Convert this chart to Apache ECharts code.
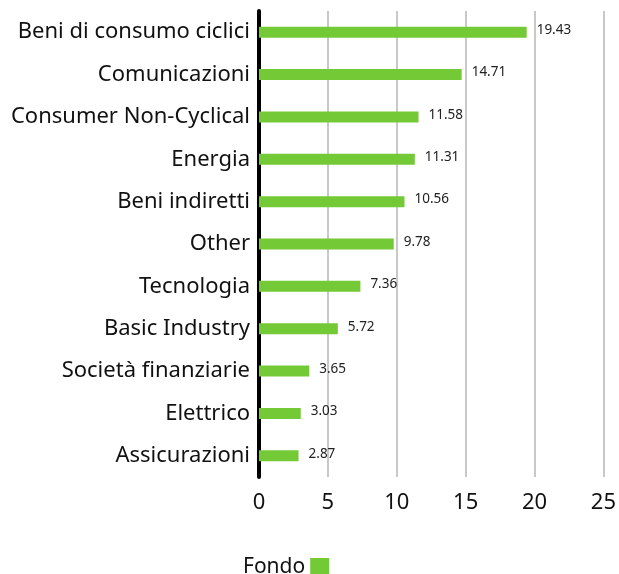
<!DOCTYPE html>
<html><head><meta charset="utf-8">
<script src="https://cdn.jsdelivr.net/npm/echarts@6/dist/echarts.min.js"></script>
<style>html,body{margin:0;padding:0;background:#fff}#c{width:619px;height:574px}</style>
</head><body><div id="c"></div>
<script>
const categories = ["Beni di consumo ciclici","Comunicazioni","Consumer Non-Cyclical","Energia","Beni indiretti","Other","Tecnologia","Basic Industry","Società finanziarie","Elettrico","Assicurazioni"];
const fondo = [19.43,14.71,11.58,11.31,10.56,9.78,7.36,5.72,3.65,3.03,2.87];
const xTicks = [0,5,10,15,20,25];

const chart = echarts.init(document.getElementById('c'));
chart.setOption({
  animation:false,
  textStyle:{fontFamily:'Noto Sans'},
  grid:{left:259,right:14,top:11,bottom:97},
  legend:{data:['Fondo'],bottom:-9,left:238,align:'right',itemWidth:19,itemHeight:19,icon:'rect',itemGap:8,
    textStyle:{fontSize:21,color:'#111',fontFamily:'Noto Sans'}},
  xAxis:{type:'value',min:0,max:25,interval:5,
    axisLine:{show:false},axisTick:{show:false},
    splitLine:{show:true,lineStyle:{color:'#c8c8c8',width:2}},
    axisLabel:{fontSize:22,color:'#111',margin:15,formatter:v=>xTicks.includes(v)?String(v):''}},
  yAxis:{type:'category',data:categories,inverse:true,
    axisLine:{show:true,lineStyle:{color:'#000',width:4}},axisTick:{show:false},
    axisLabel:{fontSize:22,color:'#111',margin:9}},
  series:[{name:'Fondo',type:'bar',data:fondo,barWidth:11,itemStyle:{color:'#74c936'},
    label:{show:true,position:'right',distance:10,offset:[0,-2],fontSize:13.5,color:'#222'}}]
});
</script></body></html>
